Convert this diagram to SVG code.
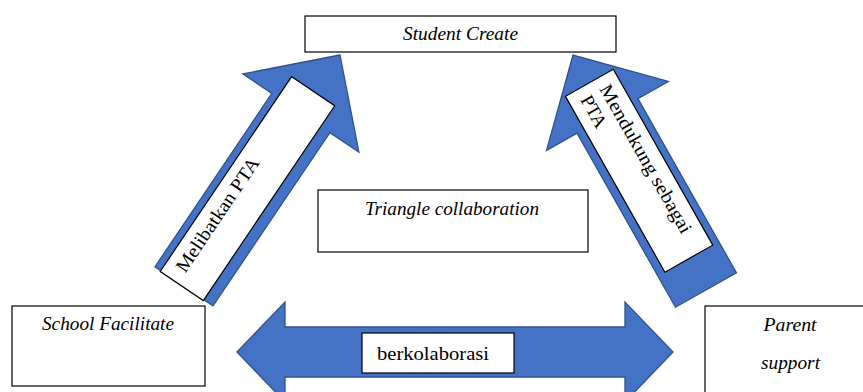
<svg xmlns="http://www.w3.org/2000/svg" width="863" height="392" viewBox="0 0 863 392">
<style>
.box{fill:#fff;stroke:#000;stroke-width:1.2}
.arr{fill:#4472C4;stroke:#2F528F;stroke-width:1.3;stroke-linejoin:miter}
.lbl{fill:#fff;stroke:#000;stroke-width:1.2}
.ti{font-family:"Liberation Serif",serif;font-style:italic;font-size:18px;fill:#000}
.tr{font-family:"Liberation Serif",serif;font-size:19px;fill:#000}
</style>
<rect width="863" height="392" fill="#fff"/>
<g id="student-create">
<rect class="box" x="305" y="16" width="311" height="36"/>
<text class="ti" x="460.5" y="40" text-anchor="middle" textLength="115" lengthAdjust="spacingAndGlyphs">Student Create</text>
</g>
<g id="triangle-collaboration">
<rect class="box" x="318" y="190" width="270" height="62"/>
<text class="ti" x="452" y="215" text-anchor="middle" textLength="174" lengthAdjust="spacingAndGlyphs">Triangle collaboration</text>
</g>
<g id="school-facilitate">
<rect class="box" x="12" y="306" width="193" height="80"/>
<text class="ti" x="108" y="330" text-anchor="middle" textLength="132" lengthAdjust="spacingAndGlyphs">School Facilitate</text>
</g>
<g id="parent-support">
<rect class="box" x="705" y="306" width="170" height="100"/>
<text class="ti" x="790" y="331" text-anchor="middle" textLength="53" lengthAdjust="spacingAndGlyphs">Parent</text>
<text class="ti" x="790.5" y="369" text-anchor="middle" textLength="59" lengthAdjust="spacingAndGlyphs">support</text>
</g>
<g id="connectors">
<g id="arrow-school-student" transform="translate(340,55) rotate(-56)">
<path class="arr" d="M0,0 L-70,-70 L-70,-35 L-279,-35 L-279,35 L-70,35 L-70,70 Z"/>
<rect class="lbl" x="-280" y="-28" width="235" height="52"/>
<text class="tr" x="-268" y="-6" textLength="134" lengthAdjust="spacingAndGlyphs">Melibatkan PTA</text>
</g>
<g id="arrow-parent-student">
<path class="arr" transform="translate(573,55) rotate(-119.5)" d="M0,0 L-70,-70 L-70,-35 L-270,-35 L-270,35 L-70,35 L-70,70 Z"/>
<g transform="translate(613.3,69.3) rotate(60.5)">
<rect class="lbl" x="0" y="0" width="202" height="55"/>
<text class="tr" x="10" y="22" textLength="168" lengthAdjust="spacingAndGlyphs">Mendukung sebagai</text>
<text class="tr" x="10" y="44">PTA</text>
</g>
</g>
<g id="arrow-school-parent">
<path class="arr" d="M237,352 L285,302 L285,327 L625,327 L625,302 L673,352 L625,402 L625,377 L285,377 L285,402 Z"/>
<rect class="lbl" x="362" y="333" width="152" height="40"/>
<text class="tr" x="377" y="360" textLength="112" lengthAdjust="spacingAndGlyphs">berkolaborasi</text>
</g>
</g>
</svg>
